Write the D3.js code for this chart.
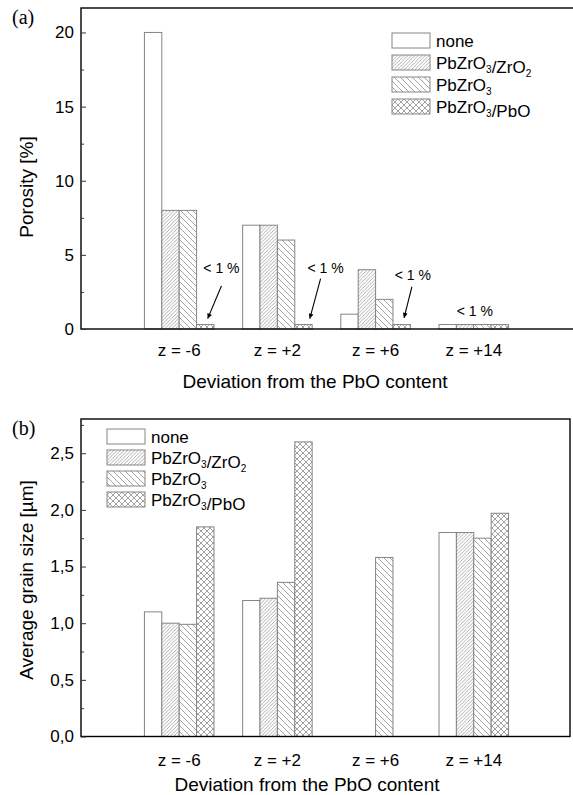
<!DOCTYPE html>
<html>
<head>
<meta charset="utf-8">
<script src="https://cdn.jsdelivr.net/npm/d3@7"></script>
<style>
body { margin: 0; background: #fff; }
svg { display: block; font-family: "Liberation Sans", Arial, sans-serif; }
</style>
</head>
<body>
<svg id="chart" width="573" height="795"></svg>
<script>
// categories and series
const groups = ["z = -6", "z = +2", "z = +6", "z = +14"];
const seriesNames = ["none", "PbZrO3/ZrO2", "PbZrO3", "PbZrO3/PbO"];

// (a) porosity [%]
const porNone    = [20, 7, 1, 0.3];
const porZrO2    = [8, 7, 4, 0.3];
const porPbZrO3  = [8, 6, 2, 0.3];
const porPbO     = [0.3, 0.3, 0.3, 0.3];
const porTicks   = [0, 5, 10, 15, 20];
const porMinor   = [2.5, 7.5, 12.5, 17.5];

// (b) average grain size [µm]
const grainNone   = [1.10, 1.20, null, 1.80];
const grainZrO2   = [1.00, 1.22, null, 1.80];
const grainPbZrO3 = [0.99, 1.36, 1.58, 1.75];
const grainPbO    = [1.85, 2.60, null, 1.97];
const grainTicks  = [0, 0.5, 1, 1.5, 2, 2.5];
const grainMinor  = [0.25, 0.75, 1.25, 1.75, 2.25, 2.75];

// "< 1 %" notes in data units (x relative to group centre)
const notes = [
    {g: 0, tx: 0.43, ty: 4.1, ax: 0.43, ay: 2.9, bx: 0.29, by: 0.7},
    {g: 1, tx: 0.49, ty: 4.1, ax: 0.44, ay: 3.4, bx: 0.33, by: 0.7},
    {g: 2, tx: 0.38, ty: 3.65, ax: 0.37, ay: 2.85, bx: 0.29, by: 0.75},
    {g: 3, tx: 0.01, ty: 1.2}
];

const svg = d3.select("#chart");
const fills = ["#fff", "url(#hFwd)", "url(#hBack)", "url(#hCross)"];
const barStroke = "#858585";
const hatchCol = "#8c8c8c";
const unitPx = 489 / 4.98;  // px per group step
const barW = 0.177;          // bar width in group steps

// patterns
const defs = svg.append("defs");
function pattern(id, size, d, w) {
    const p = defs.append("pattern").attr("id", id)
        .attr("patternUnits", "userSpaceOnUse")
        .attr("width", size).attr("height", size);
    p.append("rect").attr("width", size).attr("height", size).attr("fill", "#fff");
    p.append("path").attr("d", d).attr("stroke", hatchCol).attr("stroke-width", w).attr("fill", "none");
}
pattern("hFwd", 3.5, "M-1,1 L1,-1 M0,3.5 L3.5,0 M2.5,4.5 L4.5,2.5", 0.7);
pattern("hBack", 6, "M-1,5 L1,7 M0,0 L6,6 M5,-1 L7,1", 0.8);
pattern("hCross", 6, "M-1,5 L1,7 M0,0 L6,6 M5,-1 L7,1 M-1,1 L1,-1 M0,6 L6,0 M5,7 L7,5", 0.8);

defs.append("marker").attr("id", "arrow")
    .attr("viewBox", "0 0 10 10").attr("refX", 10).attr("refY", 5)
    .attr("markerWidth", 7).attr("markerHeight", 5).attr("orient", "auto")
    .attr("markerUnits", "userSpaceOnUse")
    .append("path").attr("d", "M0,0 L10,5 L0,10 Z").attr("fill", "#000");

function subText(sel, label, size, subSize) {
    label.split(/(\d)/).filter(s => s).forEach(part => {
        if (/\d/.test(part)) {
            sel.append("tspan").attr("font-size", subSize).attr("dy", 4).text(part);
            sel.append("tspan").attr("dy", -4).text("");
        } else {
            sel.append("tspan").attr("font-size", size).text(part);
        }
    });
}

function drawPanel(cfg) {
    const g = svg.append("g");
    const x = d3.scaleLinear().domain([0, cfg.xMax]).range([81, 81 + cfg.xMax * unitPx]);
    const y = d3.scaleLinear().domain([0, cfg.yMax]).range([cfg.bottom, cfg.top]);

    // bars
    cfg.series.forEach((vals, si) => {
        g.selectAll(null)
            .data(vals.map((v, gi) => ({v, gi})).filter(d => d.v != null))
            .enter().append("rect")
            .attr("x", d => x(d.gi + 1 + (si - 2) * barW))
            .attr("y", d => y(d.v))
            .attr("width", x(barW) - x(0))
            .attr("height", d => y(0) - y(d.v))
            .attr("fill", fills[si])
            .attr("stroke", barStroke)
            .attr("stroke-width", 1);
    });

    // frame
    g.append("rect")
        .attr("x", x(0)).attr("y", cfg.top)
        .attr("width", x(cfg.xMax) - x(0)).attr("height", cfg.bottom - cfg.top)
        .attr("fill", "none").attr("stroke", "#000").attr("stroke-width", 1.4);

    // y axis
    const fmt = cfg.fmt;
    g.append("g").attr("transform", `translate(${x(0)},0)`)
        .call(d3.axisLeft(y).tickValues(cfg.ticks).tickSize(-5).tickPadding(7).tickFormat(fmt))
        .call(a => a.select(".domain").remove())
        .call(a => a.selectAll("text").attr("font-size", 17).attr("font-family", "Liberation Sans, Arial, sans-serif").attr("fill", "#000"))
        .call(a => a.selectAll("line").attr("stroke", "#333"));
    g.append("g").attr("transform", `translate(${x(0)},0)`)
        .call(d3.axisLeft(y).tickValues(cfg.minor.filter(v => v < cfg.yMax)).tickSize(-3).tickFormat(""))
        .call(a => a.select(".domain").remove())
        .call(a => a.selectAll("line").attr("stroke", "#333"));

    // x labels
    g.selectAll(null).data(groups).enter().append("text")
        .attr("x", (d, i) => x(i + 1))
        .attr("y", cfg.bottom + cfg.labelGap)
        .attr("text-anchor", "middle").attr("font-size", 17)
        .text(d => d);

    g.append("text")
        .attr("x", cfg.xTitleX).attr("y", cfg.xTitleY)
        .attr("text-anchor", "middle").attr("font-size", 19)
        .text("Deviation from the PbO content");

    g.append("text")
        .attr("transform", `translate(33,${cfg.yTitleY}) rotate(-90)`)
        .attr("text-anchor", "middle").attr("font-size", 19)
        .text(cfg.yTitle);

    g.append("text")
        .attr("x", 12).attr("y", cfg.top + 16)
        .attr("font-family", "Liberation Serif, Times New Roman, serif").attr("font-size", 20)
        .text(cfg.tag);

    // legend
    const lg = g.append("g").attr("transform", `translate(${cfg.legX},${cfg.legY})`);
    seriesNames.forEach((name, i) => {
        lg.append("rect").attr("x", 0).attr("y", i * cfg.legStep)
            .attr("width", 38).attr("height", 15)
            .attr("fill", fills[i]).attr("stroke", barStroke).attr("stroke-width", 1);
        const t = lg.append("text").attr("x", 44).attr("y", i * cfg.legStep + 14).attr("font-size", 17);
        subText(t, name, 17, 10);
    });

    return {x, y, g};
}

const panelA = drawPanel({
    tag: "(a)", top: 8, bottom: 329, xMax: 5.3, yMax: 21.65,
    series: [porNone, porZrO2, porPbZrO3, porPbO],
    ticks: porTicks, minor: porMinor, fmt: d3.format("d"),
    labelGap: 27, xTitleX: 315, xTitleY: 388,
    yTitle: "Porosity [%]", yTitleY: 187,
    legX: 392, legY: 33, legStep: 22
});

// "< 1 %" notes
notes.forEach(n => {
    const cx = n.g + 1;
    panelA.g.append("text")
        .attr("x", panelA.x(cx + n.tx)).attr("y", panelA.y(n.ty)).attr("dy", "0.35em")
        .attr("text-anchor", "middle").attr("font-size", 14)
        .text("< 1 %");
    if (n.ax != null) {
        panelA.g.append("line")
            .attr("x1", panelA.x(cx + n.ax)).attr("y1", panelA.y(n.ay))
            .attr("x2", panelA.x(cx + n.bx)).attr("y2", panelA.y(n.by))
            .attr("stroke", "#000").attr("stroke-width", 1.1)
            .attr("marker-end", "url(#arrow)");
    }
});

const panelB = drawPanel({
    tag: "(b)", top: 419, bottom: 736.5, xMax: 4.98, yMax: 2.802,
    series: [grainNone, grainZrO2, grainPbZrO3, grainPbO],
    ticks: grainTicks, minor: grainMinor, fmt: d => d3.format(".1f")(d).replace(".", ","),
    labelGap: 29, xTitleX: 307, xTitleY: 791,
    yTitle: "Average grain size [µm]", yTitleY: 580,
    legX: 107, legY: 429, legStep: 21
});
</script>
</body>
</html>
